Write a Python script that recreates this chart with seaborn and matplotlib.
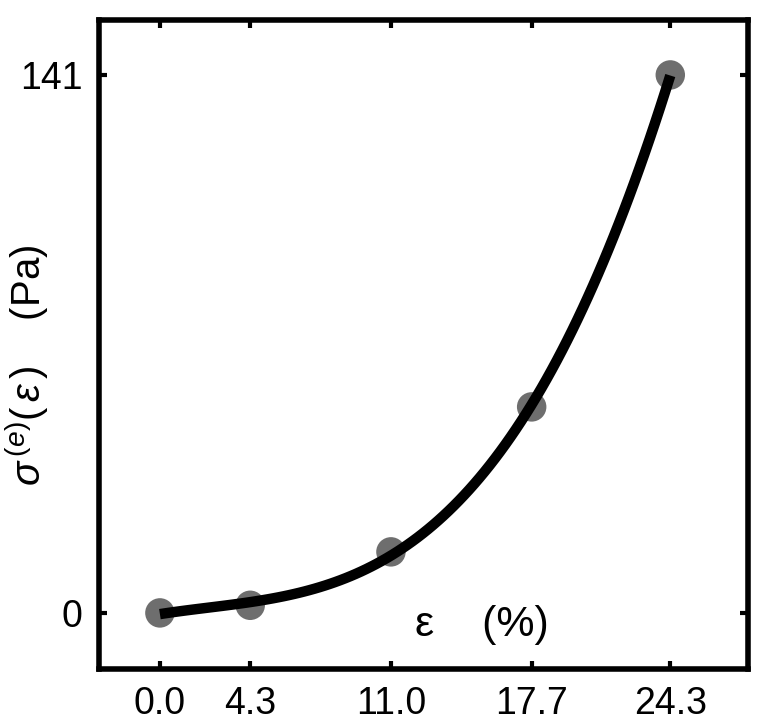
import seaborn as sns
import matplotlib.pyplot as plt
import pandas as pd

# strain (%) and stress (Pa)
strain = [0.0, 4.3, 11.0, 17.7, 24.3]
stress = [0.0, 2.0, 16.0, 54.0, 141.0]
xticks = [0.0, 4.3, 11.0, 17.7, 24.3]
yticks = [0, 141]

data = pd.DataFrame({'strain': strain, 'stress': stress})

sns.set_style("white")
plt.rcParams['font.family'] = ['Liberation Sans', 'DejaVu Sans']
plt.rcParams['mathtext.fontset'] = 'custom'
plt.rcParams['mathtext.rm'] = 'Liberation Sans'
plt.rcParams['mathtext.it'] = 'Liberation Sans:italic'
plt.rcParams['text.color'] = 'black'
plt.rcParams['axes.labelcolor'] = 'black'

fig = plt.figure(figsize=(7.68, 7.28), dpi=100)
ax = fig.add_axes([99 / 768, 59 / 728, 649 / 768, 649 / 728])

# points
sns.scatterplot(x='strain', y='stress', data=data, s=450, color='#6e6e6e',
                edgecolor='none', ax=ax, zorder=2)
# fitted curve (cubic fit through the points)
sns.regplot(x='strain', y='stress', data=data, order=3, ci=None, scatter=False,
            truncate=True, color='black', line_kws={'linewidth': 7.5, 'solid_capstyle': 'butt'},
            ax=ax)
ax.lines[-1].set_zorder(3)

ax.set_xlim(-2.9, 28.0)
ax.set_ylim(-14.7, 155.4)
ax.set_xticks(xticks)
ax.set_xticklabels([f'{v:.1f}' for v in xticks])
ax.set_yticks(yticks)
ax.set_yticklabels([str(v) for v in yticks])

for s in ax.spines.values():
    s.set_linewidth(4)
    s.set_color('black')
ax.tick_params(direction='in', length=6, width=3, labelsize=27, pad=12,
               colors='black', top=True, right=True, bottom=True, left=True)

ax.set_xlabel('')
ax.set_ylabel(r'$\sigma^{\,(e)}(\,\varepsilon\,)$    (Pa)', fontsize=29)
ax.yaxis.set_label_coords(-0.074, 0.468)
ax.text(0.59, 0.068, 'ε    (%)', transform=ax.transAxes, fontsize=31,
        ha='center', va='center')

plt.savefig('out.png', dpi=100)
